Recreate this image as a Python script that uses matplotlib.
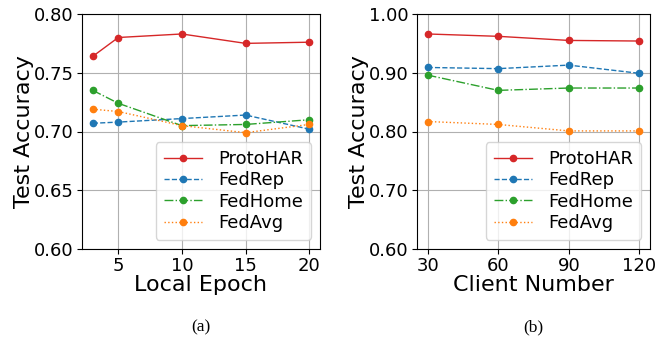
import matplotlib
matplotlib.use("Agg")
import matplotlib.pyplot as plt

epochs = [3, 5, 10, 15, 20]
clients = [30, 60, 90, 120]
methods = ["ProtoHAR", "FedRep", "FedHome", "FedAvg"]

epoch_acc = {
    "ProtoHAR": [0.764, 0.780, 0.783, 0.775, 0.776],
    "FedRep":   [0.707, 0.708, 0.711, 0.714, 0.702],
    "FedHome":  [0.735, 0.724, 0.705, 0.706, 0.710],
    "FedAvg":   [0.719, 0.717, 0.705, 0.699, 0.706],
}
client_acc = {
    "ProtoHAR": [0.966, 0.962, 0.955, 0.954],
    "FedRep":   [0.909, 0.907, 0.913, 0.899],
    "FedHome":  [0.896, 0.870, 0.874, 0.874],
    "FedAvg":   [0.817, 0.812, 0.801, 0.801],
}
yticks_a = [0.60, 0.65, 0.70, 0.75, 0.80]
yticks_b = [0.60, 0.70, 0.80, 0.90, 1.00]
xticks_a = [5, 10, 15, 20]

colors = {"ProtoHAR": "#d62728", "FedRep": "#1f77b4", "FedHome": "#2ca02c", "FedAvg": "#ff7f0e"}
styles = {"ProtoHAR": "-", "FedRep": "--", "FedHome": "-.", "FedAvg": ":"}

fig = plt.figure(figsize=(6.69, 3.43), dpi=100)
ax1 = fig.add_axes([82/669, 1-249/343, 238/669, 235/343])
ax2 = fig.add_axes([417/669, 1-249/343, 233/669, 235/343])

def draw(ax, x, data, yticks, xticks, xlabel):
    for m in methods:
        ax.plot(x, data[m], linestyle=styles[m], color=colors[m], marker="o",
                markersize=4.5, linewidth=1.0, label=m)
    ax.set_ylim(yticks[0], yticks[-1])
    ax.set_yticks(yticks)
    ax.set_yticklabels([f"{v:.2f}" for v in yticks])
    ax.set_xticks(xticks)
    ax.grid(True, color="#b0b0b0", linewidth=0.8)
    ax.tick_params(labelsize=13, pad=2.5)
    ax.set_xlabel(xlabel, fontsize=16, labelpad=0)
    ax.set_ylabel("Test Accuracy", fontsize=16, labelpad=0)
    ax.legend(loc="lower right", fontsize=13, borderaxespad=0.5, handlelength=2.1,
              labelspacing=0.18, handletextpad=0.9, borderpad=0.45)

draw(ax1, epochs, epoch_acc, yticks_a, xticks_a, "Local Epoch")
draw(ax2, clients, client_acc, yticks_b, clients, "Client Number")

fig.text((82+320)/2/669, 1-327/343, "(a)", ha="center", va="center",
         fontsize=12.5, family="Liberation Serif")
fig.text((417+650)/2/669, 1-327/343, "(b)", ha="center", va="center",
         fontsize=12.5, family="Liberation Serif")

fig.savefig("out.png", dpi=100)
